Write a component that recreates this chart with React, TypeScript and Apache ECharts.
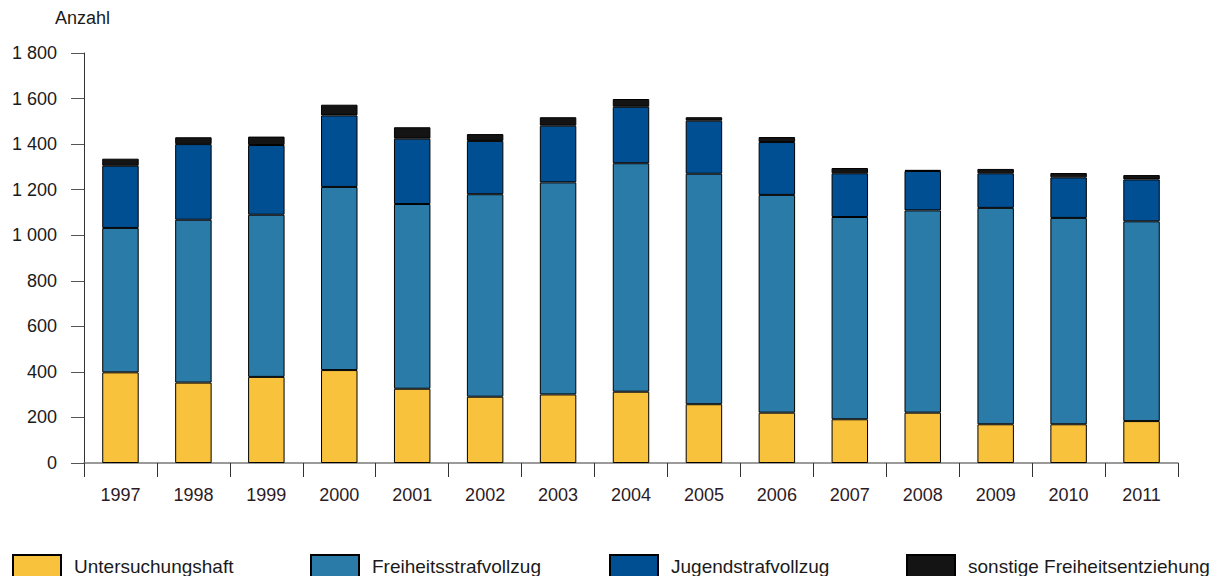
import React, { useEffect, useRef } from "react";
import * as echarts from "echarts";

const years = ["1997","1998","1999","2000","2001","2002","2003","2004","2005","2006","2007","2008","2009","2010","2011"];
const untersuchungshaft = [398, 353, 378, 408, 326, 291, 301, 313, 258, 221, 192, 221, 170, 170, 184];
const freiheitsstrafvollzug = [634, 715, 712, 804, 811, 889, 931, 1003, 1012, 956, 888, 888, 950, 906, 877];
const jugendstrafvollzug = [273, 332, 306, 314, 287, 234, 249, 248, 233, 232, 192, 173, 152, 178, 184];
const sonstige = [31, 30, 37, 47, 50, 30, 37, 34, 15, 22, 23, 5, 19, 19, 19];
const seriesNames = ["Untersuchungshaft", "Freiheitsstrafvollzug", "Jugendstrafvollzug", "sonstige Freiheitsentziehung"];
const yTicks = [0, 200, 400, 600, 800, 1000, 1200, 1400, 1600, 1800];

const colors = ["#F9C23C", "#2A7BA8", "#004F93", "#141414"];
const FONT = "'Liberation Sans', Arial, sans-serif";

export default function App() {
  const ref = useRef<HTMLDivElement>(null);
  useEffect(() => {
    if (!ref.current) return;
    const chart = echarts.init(ref.current, null, { renderer: "svg" });
    const data = [untersuchungshaft, freiheitsstrafvollzug, jugendstrafvollzug, sonstige];
    const legendLefts = [12, 310, 609, 906];
    chart.setOption({
      animation: false,
      textStyle: { fontFamily: FONT },
      grid: { left: 84, right: 44, top: 53, bottom: 113 },
      graphic: [
        { type: "text", left: 55, top: 9, style: { text: "Anzahl", font: `18px ${FONT}`, fill: "#1a1a1a" } },
      ],
      legend: seriesNames.map((n, i) => ({
        data: [n],
        left: legendLefts[i],
        top: 554,
        padding: 0,
        itemWidth: 48,
        itemHeight: 23,
        icon: "rect",
        selectedMode: false,
        textStyle: { fontSize: 19, fontFamily: FONT, color: "#1a1a1a", padding: [0, 0, 0, 8] },
      })),
      xAxis: {
        type: "category",
        data: years,
        axisLine: { lineStyle: { color: "#7a7a7a", width: 1.5 } },
        axisTick: { show: true, length: 14, lineStyle: { color: "#333" } },
        axisLabel: { fontSize: 18, color: "#2d1a24", margin: 23, fontFamily: FONT },
      },
      yAxis: {
        type: "value",
        min: 0,
        max: 1800,
        interval: 200,
        splitLine: { show: false },
        axisLine: { show: true, lineStyle: { color: "#333", width: 1 } },
        axisTick: { show: true, length: 13, lineStyle: { color: "#555" } },
        axisLabel: {
          fontSize: 18,
          color: "#1a1a1a",
          margin: 27,
          fontFamily: FONT,
          formatter: (v: number) => {
            const s = String(v);
            return yTicks.includes(v) && v >= 1000 ? s.slice(0, s.length - 3) + " " + s.slice(-3) : s;
          },
        },
      },
      series: seriesNames.map((n, i) => ({
        name: n,
        type: "bar",
        stack: "total",
        barWidth: "50%",
        data: data[i],
        itemStyle: { color: colors[i], borderColor: "#000", borderWidth: 1 },
      })),
    });
    return () => chart.dispose();
  }, []);
  return <div ref={ref} style={{ width: 1222, height: 576, position: "absolute", left: 0, top: 0 }} />;
}
